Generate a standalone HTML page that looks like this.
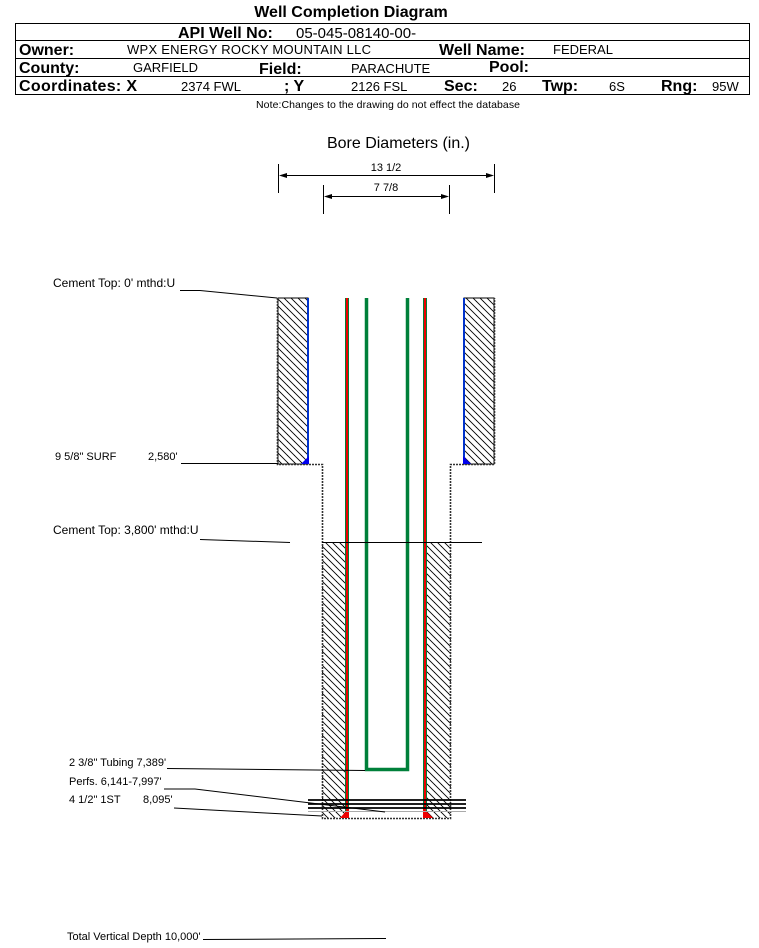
<!DOCTYPE html>
<html><head><meta charset="utf-8"><style>
html,body{margin:0;padding:0;background:#fff;}
body{width:759px;height:943px;overflow:hidden;font-family:"Liberation Sans",Arial,sans-serif;}
</style></head><body>
<svg width="759" height="943" xmlns="http://www.w3.org/2000/svg" font-family="Liberation Sans, Arial, sans-serif">
<defs>
<pattern id="h" width="7" height="7" patternUnits="userSpaceOnUse">
<line x1="-1" y1="-1" x2="8" y2="8" stroke="#000" stroke-width="0.9"/>
<line x1="-1" y1="6" x2="1" y2="8" stroke="#000" stroke-width="0.9"/>
<line x1="6" y1="-1" x2="8" y2="1" stroke="#000" stroke-width="0.9"/>
</pattern>
</defs>
<!-- header -->
<text x="351" y="17" font-size="16" font-weight="bold" text-anchor="middle">Well Completion Diagram</text>
<rect x="15.5" y="23.5" width="734" height="71" fill="none" stroke="#000"/>
<line x1="15" y1="40.5" x2="750" y2="40.5" stroke="#000"/>
<line x1="15" y1="58.5" x2="750" y2="58.5" stroke="#000"/>
<line x1="15" y1="76.5" x2="750" y2="76.5" stroke="#000"/>
<text x="178" y="38" font-size="16" font-weight="bold">API Well No:</text>
<text x="296" y="38" font-size="15">05-045-08140-00-</text>
<g font-size="16" font-weight="bold">
<text x="19" y="55">Owner:</text><text x="439" y="55">Well Name:</text>
<text x="19" y="73">County:</text><text x="259" y="74">Field:</text><text x="489" y="72">Pool:</text>
<text x="19" y="91" textLength="118">Coordinates: X</text><text x="284" y="91">; Y</text><text x="444" y="91">Sec:</text><text x="542" y="91">Twp:</text><text x="661" y="91">Rng:</text>
</g>
<g font-size="13">
<text x="127" y="54" textLength="244">WPX ENERGY ROCKY MOUNTAIN LLC</text><text x="553" y="54">FEDERAL</text>
<text x="133" y="72">GARFIELD</text><text x="351" y="73">PARACHUTE</text>
<text x="181" y="91">2374 FWL</text><text x="351" y="91">2126 FSL</text><text x="502" y="91">26</text><text x="609" y="91">6S</text><text x="712" y="91">95W</text>
</g>
<text x="256" y="108" font-size="10.5" textLength="264">Note:Changes to the drawing do not effect the database</text>
<!-- dimensions -->
<text x="327" y="148" font-size="16" textLength="143">Bore Diameters (in.)</text>
<g stroke="#000" stroke-width="1">
<line x1="278.5" y1="164" x2="278.5" y2="193"/><line x1="494.5" y1="164" x2="494.5" y2="193"/>
<line x1="282" y1="175.5" x2="490" y2="175.5"/>
<line x1="323.5" y1="185" x2="323.5" y2="214"/><line x1="449.5" y1="185" x2="449.5" y2="214"/>
<line x1="327" y1="196.5" x2="445" y2="196.5"/>
</g>
<g fill="#000">
<polygon points="279,175.5 287,173 287,178"/><polygon points="494,175.5 486,173 486,178"/>
<polygon points="324,196.5 332,194 332,199"/><polygon points="449,196.5 441,194 441,199"/>
</g>
<text x="386" y="171" font-size="11" text-anchor="middle">13 1/2</text>
<text x="386" y="191" font-size="11" text-anchor="middle">7 7/8</text>
<!-- cement hatch -->
<rect x="278" y="298" width="30" height="166" fill="url(#h)" stroke="#000"/>
<rect x="464" y="298" width="30" height="166" fill="url(#h)" stroke="#000"/>
<rect x="322" y="543" width="24" height="275" fill="url(#h)"/>
<rect x="427" y="543" width="24" height="275" fill="url(#h)"/>
<!-- hole outline dotted -->
<path d="M277.5,298 V464.5 H322.5 V818.5 H450.5 V464.5 H494.5 V298" fill="none" stroke="#333" stroke-width="1.6" stroke-dasharray="2,1"/>
<!-- surface casing blue -->
<rect x="307" y="298" width="2" height="166" fill="#0033cc"/>
<rect x="463" y="298" width="2" height="166" fill="#0033cc"/>
<polygon points="301,464 309,464 309,456" fill="#0000ee"/>
<polygon points="463,464 471,464 463,456" fill="#0000ee"/>
<!-- production casing -->
<rect x="345" y="298" width="4" height="520" fill="#00803a"/>
<rect x="346" y="298" width="2" height="520" fill="#e00"/>
<rect x="423" y="298" width="4" height="520" fill="#00803a"/>
<rect x="424" y="298" width="2" height="520" fill="#e00"/>
<polygon points="340,818 349,818 349,808" fill="#e00"/>
<polygon points="423,818 433,818 423,808" fill="#e00"/>
<!-- tubing -->
<path d="M366.5,298 V769.5 H407.5 V298" fill="none" stroke="#00803a" stroke-width="3.5"/>
<!-- cement top line -->
<line x1="322" y1="542.5" x2="482" y2="542.5" stroke="#000"/>
<!-- perfs -->
<g stroke="#000" stroke-width="1.8">
<line x1="308" y1="800" x2="466" y2="800"/><line x1="308" y1="804" x2="466" y2="804"/><line x1="308" y1="808" x2="466" y2="808"/>
</g>
<line x1="308" y1="811.5" x2="466" y2="811.5" stroke="#aaa" stroke-width="1"/>
<!-- labels & leaders -->
<g font-size="11" fill="#000">
<text x="53" y="287" font-size="12">Cement Top: 0' mthd:U</text>
<text x="55" y="460">9 5/8" SURF</text><text x="148" y="460">2,580'</text>
<text x="53" y="534" font-size="12">Cement Top: 3,800' mthd:U</text>
<text x="69" y="766">2 3/8" Tubing 7,389'</text>
<text x="69" y="785">Perfs. 6,141-7,997'</text>
<text x="69" y="803">4 1/2" 1ST</text><text x="143" y="803">8,095'</text>
<text x="67" y="940">Total Vertical Depth 10,000'</text>
</g>
<g stroke="#000" stroke-width="1" fill="none">
<polyline points="180,290.5 200,290.5 277,298"/>
<polyline points="181,463.5 278,463.5"/>
<polyline points="200,539.5 290,542.5"/>
<polyline points="167,768.5 365,770.5"/>
<polyline points="164,789 195,789 385,812"/>
<polyline points="174,808 322,816"/>
<line x1="203" y1="939.5" x2="386" y2="938.5"/>
</g>
</svg>
</body></html>
